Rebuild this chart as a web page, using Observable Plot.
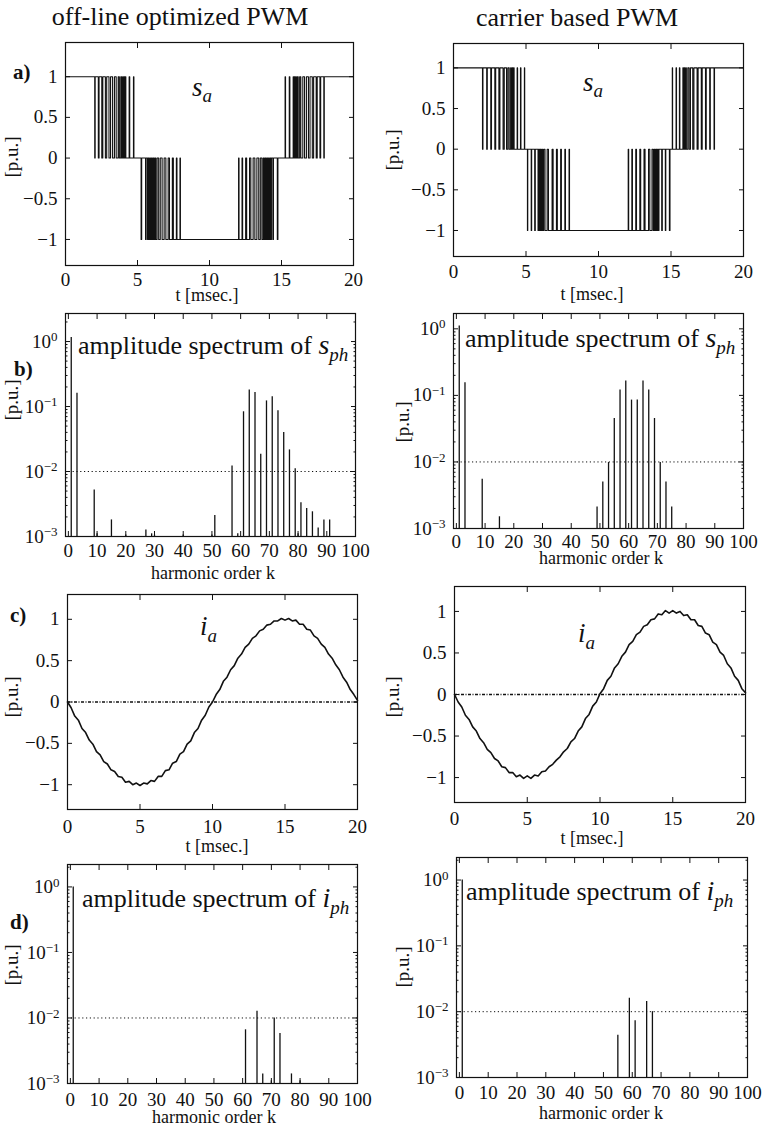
<!DOCTYPE html>
<html><head><meta charset="utf-8">
<script src="https://cdn.jsdelivr.net/npm/d3@7"></script>
<script src="https://cdn.jsdelivr.net/npm/@observablehq/plot@0.6"></script>
<style>
body{margin:0;background:#fff;}
#root{position:relative;width:764px;height:1130px;overflow:hidden;}
#root svg{position:absolute;}
#root svg text{font-family:"Liberation Serif","Times New Roman",serif;}
</style></head><body><div id="root"></div>
<script>
// ---------------- DATA ----------------
const timeTicks = [0, 5, 10, 15, 20];
const puTicks = [-1, -0.5, 0, 0.5, 1];
const harmonicTicks = [0, 10, 20, 30, 40, 50, 60, 70, 80, 90, 100];
const logTicks = [0.001, 0.01, 0.1, 1];
const minorLogTicks = [0.002,0.003,0.004,0.005,0.006,0.007,0.008,0.009,0.02,0.03,0.04,0.05,0.06,0.07,0.08,0.09,0.2,0.3,0.4,0.5,0.6,0.7,0.8,0.9,2];

// switching-function levels for the four PWM segments
const segmentLevels = [[1, 0], [0, -1], [-1, 0], [0, 1]];

// off-line optimized PWM: switching instants [ms]
const saOptEdges1 = [2.03,2.06, 2.28,2.33, 2.52,2.59, 2.77,2.86, 3.02,3.13, 3.27,3.40, 3.52,3.66, 3.74,3.84, 3.90, 3.97,4.02, 4.07,4.11, 4.16,4.19, 4.42,4.46, 4.72,4.75];
const saOptEdges2 = [5.25,5.29, 5.56,5.60, 5.70,5.74, 5.80,5.85, 5.90,5.96, 6.02,6.07, 6.14, 6.20,6.27, 6.36,6.47, 6.58,6.71, 6.85,6.97, 7.13,7.22, 7.42,7.49, 7.70,7.74, 7.95,7.98];
const saOptEdges3 = [12.02,12.05, 12.26,12.30, 12.51,12.58, 12.78,12.87, 13.03,13.15, 13.29,13.42, 13.53,13.64, 13.73,13.80, 13.86, 13.93,13.98, 14.04,14.10, 14.15,14.20, 14.26,14.30, 14.40,14.44, 14.71,14.75];
const saOptEdges4 = [15.25,15.28, 15.54,15.58, 15.81,15.84, 15.89,15.93, 15.98,16.03, 16.10, 16.16,16.26, 16.34,16.48, 16.60,16.73, 16.87,16.98, 17.14,17.23, 17.41,17.48, 17.67,17.72, 17.94,17.97];

// carrier based PWM: switching instants [ms]
const saCarEdges1 = [2.00,2.03, 2.29,2.33, 2.57,2.62, 2.85,2.91, 3.13,3.20, 3.42,3.50, 3.66,3.75, 3.84,3.94, 3.99, 4.06,4.10, 4.15,4.18, 4.39,4.42, 4.62,4.65, 4.89,4.91];
const saCarEdges2 = [5.10,5.12, 5.36,5.39, 5.60,5.64, 5.83,5.87, 5.93,5.97, 6.03,6.08, 6.15, 6.22,6.31, 6.46,6.55, 6.80,6.87, 7.10,7.16, 7.39,7.44, 7.68,7.72, 7.97,8.00];
const saCarEdges3 = [12.05,12.08, 12.30,12.34, 12.57,12.62, 12.85,12.91, 13.14,13.21, 13.45,13.54, 13.69,13.78, 13.85, 13.92,13.97, 14.03,14.07, 14.13,14.17, 14.36,14.40, 14.61,14.64, 14.89,14.93];
const saCarEdges4 = [15.09,15.11, 15.35,15.38, 15.58,15.61, 15.82,15.85, 15.90,15.94, 16.01, 16.06,16.16, 16.25,16.34, 16.50,16.58, 16.80,16.87, 17.09,17.15, 17.38,17.43, 17.67,17.71, 17.97,18.00];

// amplitude spectra of s_ph
const sphOptK = [1,3,9,10,15,20,27,29,30,40,50,51,57,59,61,63,65,67,69,71,73,75,77,79,80,81,83,85,87,89,91];
const sphOptV = [1.15,0.16,0.0052,0.0011,0.0018,0.00105,0.00126,0.0011,0.00105,0.00105,0.00105,0.0021,0.0122,0.0011,0.083,0.18,0.164,0.0185,0.122,0.141,0.086,0.04,0.0215,0.011,0.0011,0.0033,0.0027,0.0024,0.00135,0.0018,0.0018];
const sphCarK = [1,3,9,15,49,51,53,55,57,59,61,63,65,67,69,71,73,75];
const sphCarV = [1.1,0.155,0.0055,0.0015,0.0021,0.005,0.0098,0.045,0.12,0.165,0.085,0.085,0.165,0.12,0.045,0.0098,0.005,0.0021];

// amplitude spectra of i_ph
const iphOptK = [1,61,65,67,70,71,73,77,80];
const iphOptV = [1.0,0.0066,0.0127,0.0014,0.0011,0.0100,0.0058,0.0014,0.0011];
const iphCarK = [1,55,59,61,65,67];
const iphCarV = [1.0,0.0044,0.016,0.0073,0.0143,0.0100];

// phase current i_a [p.u.]
const currentT = [0,0.25,0.5,0.75,1,1.25,1.5,1.75,2,2.25,2.5,2.75,3,3.25,3.5,3.75,4,4.25,4.5,4.75,5,5.25,5.5,5.75,6,6.25,6.5,6.75,7,7.25,7.5,7.75,8,8.25,8.5,8.75,9,9.25,9.5,9.75,10,10.25,10.5,10.75,11,11.25,11.5,11.75,12,12.25,12.5,12.75,13,13.25,13.5,13.75,14,14.25,14.5,14.75,15,15.25,15.5,15.75,16,16.25,16.5,16.75,17,17.25,17.5,17.75,18,18.25,18.5,18.75,19,19.25,19.5,19.75,20];
const iaOpt = [0,-0.07,-0.17,-0.22,-0.32,-0.37,-0.46,-0.51,-0.60,-0.64,-0.72,-0.75,-0.82,-0.84,-0.90,-0.91,-0.97,-0.96,-1.00,-0.98,-1.01,-0.98,-0.99,-0.95,-0.96,-0.90,-0.90,-0.83,-0.82,-0.74,-0.72,-0.63,-0.60,-0.51,-0.47,-0.37,-0.32,-0.22,-0.16,-0.06,0,0.09,0.15,0.25,0.30,0.39,0.44,0.53,0.58,0.66,0.70,0.77,0.80,0.86,0.88,0.93,0.94,0.98,0.98,1.01,0.99,1.01,0.98,0.99,0.94,0.94,0.88,0.87,0.80,0.77,0.70,0.66,0.58,0.53,0.45,0.39,0.30,0.24,0.15,0.09,0.02];
const iaCar = [0,-0.09,-0.15,-0.25,-0.30,-0.39,-0.44,-0.53,-0.58,-0.66,-0.70,-0.77,-0.80,-0.87,-0.88,-0.94,-0.94,-0.99,-0.97,-1.01,-0.98,-1.01,-0.97,-0.98,-0.93,-0.92,-0.87,-0.84,-0.79,-0.75,-0.69,-0.65,-0.57,-0.53,-0.44,-0.39,-0.29,-0.24,-0.14,-0.09,0.01,0.07,0.17,0.22,0.32,0.37,0.46,0.51,0.60,0.64,0.72,0.75,0.82,0.84,0.90,0.91,0.97,0.96,1.01,0.98,1.01,0.98,1.00,0.95,0.96,0.90,0.90,0.83,0.82,0.74,0.72,0.63,0.60,0.51,0.47,0.37,0.32,0.22,0.17,0.07,0.02];

// ---------------- BUILD ----------------
const FONT = '"Liberation Serif","Times New Roman",serif';
const INK = "#111";
const TICKFONT = 19;
const root = document.getElementById("root");

function pwmPoints(edgeSets) {
  const pts = [{t: 0, v: 1}];
  edgeSets.forEach((edges, r) => {
    const [a, b] = segmentLevels[r];
    let cur = a;
    for (const e of edges) {
      pts.push({t: e, v: cur});
      cur = cur === a ? b : a;
      pts.push({t: e, v: cur});
    }
  });
  pts.push({t: 20, v: 1});
  return pts;
}
const bars = (K, V) => K.map((k, i) => ({k, v: V[i]}));
const curve = (T, V) => T.map((t, i) => ({t, v: V[i]}));
const puFormat = d => d === 0 ? "0" : (d < 0 ? "\u2212" : "") + Math.abs(d);

const ML = 70, MR = 6, MT = 6, MB = 34;

function makePanel(p) {
  const W = p.fx1 - p.fx0, H = p.fy1 - p.fy0;
  const spec = p.kind === "spec";
  const xT = spec ? harmonicTicks : timeTicks;
  const yT = spec ? logTicks : puTicks;
  const marks = [];
  if (spec) {
    marks.push(Plot.ruleY([0.01], {stroke: INK, strokeWidth: 1, strokeDasharray: "1.2,2.6"}));
    marks.push(Plot.ruleX(p.data, {x: "k", y1: 0.001, y2: "v", stroke: INK, strokeWidth: 1.3}));
  } else {
    if (p.zero) marks.push(Plot.ruleY([0], {stroke: INK, strokeWidth: 1.4, strokeDasharray: "3,1.5,1,1.5"}));
    marks.push(Plot.line(p.data, {x: "t", y: "v", stroke: INK, strokeWidth: p.lw || 1.2}));
  }
  marks.push(Plot.frame({stroke: INK, strokeWidth: 1.2}));
  for (const a of ["bottom", "top"]) marks.push(Plot.axisX(xT, {anchor: a, tickSize: -5, tickFormat: () => "", label: null, stroke: INK}));
  for (const a of ["left", "right"]) marks.push(Plot.axisY(yT, {anchor: a, tickSize: -5, tickFormat: () => "", label: null, stroke: INK}));
  if (spec) for (const a of ["left", "right"]) marks.push(Plot.axisY(minorLogTicks.filter(d => d <= p.ydom[1]), {anchor: a, tickSize: -2.5, tickFormat: () => "", label: null, stroke: INK}));
  marks.push(Plot.axisX(xT, {anchor: "bottom", tickSize: 0, tickPadding: p.xPad, label: null, fill: INK}));
  marks.push(Plot.axisY(yT, {anchor: "left", tickSize: 0, tickPadding: 8, label: null, fill: INK,
    tickFormat: spec ? (d => "10^" + Math.round(Math.log10(d))) : puFormat}));
  const svg = Plot.plot({
    width: W + ML + MR, height: H + MT + MB,
    marginLeft: ML, marginRight: MR, marginTop: MT, marginBottom: MB,
    style: {background: "transparent", fontFamily: FONT, fontSize: TICKFONT + "px", color: INK, overflow: "visible"},
    x: {domain: spec ? [-1, 100] : [0, 20]},
    y: spec ? {type: "log", domain: p.ydom} : {domain: p.ydom},
    marks
  });
  svg.style.left = (p.fx0 - ML) + "px";
  svg.style.top = (p.fy0 - MT) + "px";
  svg.querySelectorAll("text").forEach(t => {
    t.style.fontFamily = FONT;
    t.style.fontSize = TICKFONT + "px";
    const s = t.textContent;
    if (s.startsWith("10^")) {
      const e = s.slice(3).replace("-", "\u2212");
      t.textContent = "10";
      const ts = document.createElementNS("http://www.w3.org/2000/svg", "tspan");
      ts.setAttribute("dy", "-0.5em");
      ts.style.fontSize = "13px";
      ts.textContent = e;
      t.appendChild(ts);
    }
  });
  root.appendChild(svg);
}

const panels = [
  {kind: "time", fx0: 65, fx1: 353, fy0: 42, fy1: 265, ydom: [-1.32, 1.42], xPad: 7, data: pwmPoints([saOptEdges1, saOptEdges2, saOptEdges3, saOptEdges4]), lw: 1.1},
  {kind: "time", fx0: 453, fx1: 743, fy0: 43, fy1: 256, ydom: [-1.32, 1.30], xPad: 8, data: pwmPoints([saCarEdges1, saCarEdges2, saCarEdges3, saCarEdges4]), lw: 1.1},
  {kind: "spec", fx0: 65, fx1: 355, fy0: 313, fy1: 536, ydom: [0.001, 2.7], xPad: 7, data: bars(sphOptK, sphOptV)},
  {kind: "spec", fx0: 453, fx1: 743, fy0: 313, fy1: 528, ydom: [0.001, 1.7], xPad: 6, data: bars(sphCarK, sphCarV)},
  {kind: "time", fx0: 67, fx1: 357, fy0: 594, fy1: 809, ydom: [-1.3, 1.3], xPad: 10, zero: true, data: curve(currentT, iaOpt), lw: 1.6},
  {kind: "time", fx0: 454, fx1: 745, fy0: 586, fy1: 802, ydom: [-1.3, 1.3], xPad: 9, zero: true, data: curve(currentT, iaCar), lw: 1.6},
  {kind: "spec", fx0: 67, fx1: 357, fy0: 864, fy1: 1083, ydom: [0.001, 2.2], xPad: 9, data: bars(iphOptK, iphOptV)},
  {kind: "spec", fx0: 456, fx1: 747, fy0: 857, fy1: 1077, ydom: [0.001, 2.2], xPad: 8, data: bars(iphCarK, iphCarV)}
];
panels.forEach(makePanel);

// ---------------- TEXT OVERLAY ----------------
const ov = d3.create("svg").attr("width", 764).attr("height", 1130)
  .style("left", "0px").style("top", "0px").style("pointer-events", "none")
  .attr("font-family", FONT).attr("fill", INK);

function txt(x, y, s, o = {}) {
  const t = ov.append("text").attr("x", x).attr("y", y).attr("font-size", o.size || 18)
    .attr("text-anchor", o.anchor || "start");
  if (o.weight) t.attr("font-weight", o.weight);
  if (o.italic) t.attr("font-style", "italic");
  if (o.mid) t.attr("dominant-baseline", "middle");
  if (o.rotate) t.attr("transform", `rotate(-90,${x},${y})`);
  t.text(s);
  return t;
}
function sub(t, s, size, dy) {
  t.append("tspan").attr("font-style", "italic").attr("font-size", size).attr("dy", dy).text(s);
}

// column titles
txt(180, 25, "off-line optimized PWM", {size: 26, anchor: "middle"});
txt(577, 26, "carrier based PWM", {size: 26, anchor: "middle"});
// row letters
txt(13, 79, "a)", {size: 21, weight: "bold"});
txt(14, 376, "b)", {size: 21, weight: "bold"});
txt(10, 622, "c)", {size: 21, weight: "bold"});
txt(10, 929, "d)", {size: 21, weight: "bold"});
// y labels
[[14, 157], [14, 400], [14, 697], [14, 965], [395, 150], [405, 422], [395, 697], [405, 967]]
  .forEach(([x, y]) => txt(x, y, "[p.u.]", {size: 19, anchor: "middle", mid: true, rotate: true}));
// x labels
[[207, 297, "t [msec.]"], [592, 296, "t [msec.]"], [213, 575, "harmonic order k"], [601, 560, "harmonic order k"],
 [217, 848, "t [msec.]"], [592, 840, "t [msec.]"], [214, 1119, "harmonic order k"], [601, 1115, "harmonic order k"]]
  .forEach(([x, y, s]) => txt(x, y, s, {size: 18, anchor: "middle", mid: true}));
// s_a labels
let t;
t = txt(192, 96, "s", {size: 27, italic: true}); sub(t, "a", 19, 6);
t = txt(583, 91, "s", {size: 27, italic: true}); sub(t, "a", 19, 6);
// spectrum labels
function specLabel(x, y, v) {
  const t = txt(x, y, "amplitude spectrum of ", {size: 26});
  t.append("tspan").attr("font-style", "italic").attr("font-size", 28).text(v);
  sub(t, "ph", 19, 7);
}
specLabel(78, 354, "s");
specLabel(465, 347, "s");
specLabel(82, 907, "i");
specLabel(466, 900, "i");
// i_a labels
t = txt(200, 635, "i", {size: 27, italic: true}); sub(t, "a", 19, 7);
t = txt(578, 642, "i", {size: 27, italic: true}); sub(t, "a", 19, 7);

root.appendChild(ov.node());
</script></body></html>
